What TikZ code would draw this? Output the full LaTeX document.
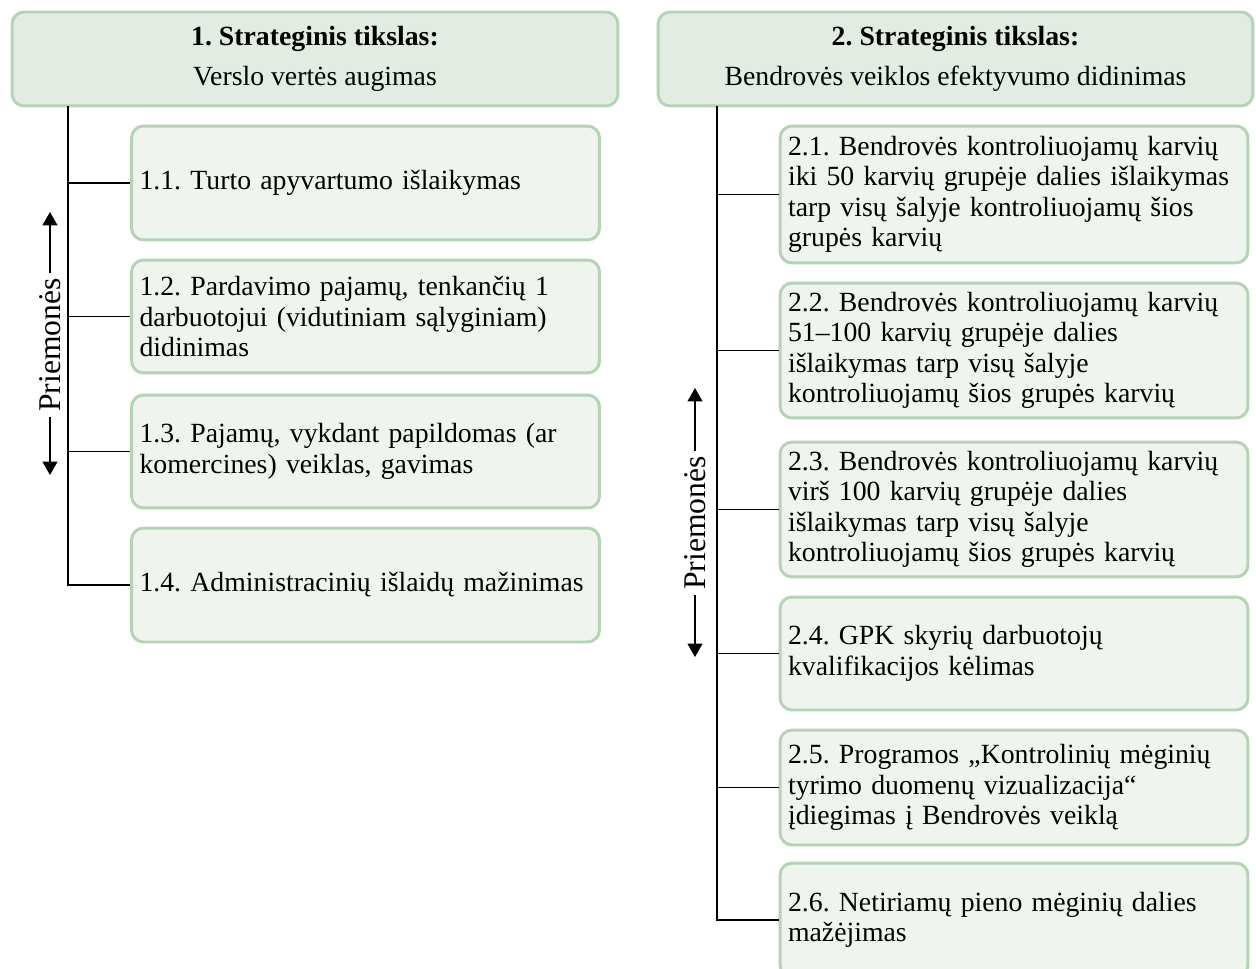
\documentclass[tikz,border=0pt]{standalone}
\usepackage{fontspec}
\setmainfont{Liberation Serif}
\usetikzlibrary{arrows.meta}
\definecolor{boxline}{RGB}{181,211,181}
\definecolor{headfill}{RGB}{226,236,226}
\definecolor{boxfill}{RGB}{239,244,239}
\frenchspacing
\begin{document}
\begin{tikzpicture}[x=0.02cm,y=-0.02cm,
    every node/.style={font=\fontsize{15.8}{17.3}\selectfont},
    goal/.style={draw=boxline, line width=1.7pt, fill=headfill, rounded corners=0.24cm,
        minimum height=1.88cm, align=center},
    measure/.style={draw=boxline, line width=1.7pt, fill=boxfill, rounded corners=0.24cm,
        inner xsep=0.16cm, text width=9.04cm, align=left},
    trunk/.style={line width=1.1pt, black},
    label/.style={rotate=90, inner xsep=3pt, inner ysep=1pt, font=\fontsize{18}{20}\selectfont}]
        \useasboundingbox (0,0) rectangle (1256,969);
        % strateginiai tikslai
        \node[goal, minimum width=12.12cm] (s1) at (315,59) {\textbf{1. Strateginis tikslas:}\\[5.5pt] Verslo vertės augimas};
        \node[goal, minimum width=11.9cm] (s2) at (955.5,59) {\textbf{2. Strateginis tikslas:}\\[5.5pt] Bendrovės veiklos efektyvumo didinimas};
        % priemones 1
        \node[measure, minimum height=2.28cm] (m11) at (365.5,183) {1.1. Turto apyvartumo išlaikymas};
        \node[measure, minimum height=2.26cm] (m12) at (365.5,316.5) {1.2. Pardavimo pajamų, tenkančių 1\\ darbuotojui (vidutiniam sąlyginiam)\\ didinimas};
        \node[measure, minimum height=2.26cm] (m13) at (365.5,451.5) {1.3. Pajamų, vykdant papildomas (ar\\ komercines) veiklas, gavimas};
        \node[measure, minimum height=2.28cm] (m14) at (365.5,585) {1.4. Administracinių išlaidų mažinimas};
        % priemones 2
        \node[measure, minimum height=2.74cm] (m21) at (1014,194.5) {2.1. Bendrovės kontroliuojamų karvių\\ iki 50 karvių grupėje dalies išlaikymas\\ tarp visų šalyje kontroliuojamų šios\\ grupės karvių};
        \node[measure, minimum height=2.7cm] (m22) at (1014,350.5) {2.2. Bendrovės kontroliuojamų karvių\\ 51–100 karvių grupėje dalies\\ išlaikymas tarp visų šalyje\\ kontroliuojamų šios grupės karvių};
        \node[measure, minimum height=2.7cm] (m23) at (1014,509.5) {2.3. Bendrovės kontroliuojamų karvių\\ virš 100 karvių grupėje dalies\\ išlaikymas tarp visų šalyje\\ kontroliuojamų šios grupės karvių};
        \node[measure, minimum height=2.26cm] (m24) at (1014,653.5) {2.4. GPK skyrių darbuotojų\\ kvalifikacijos kėlimas\\[6pt]};
        \node[measure, minimum height=2.3cm] (m25) at (1014,787.5) {2.5. Programos „Kontrolinių mėginių\\ tyrimo duomenų vizualizacija“\\ įdiegimas į Bendrovės veiklą};
        \node[measure, minimum height=2.28cm] (m26) at (1014,920) {2.6. Netiriamų pieno mėginių dalies\\ mažėjimas};
        % Priemonės rodyklės
        \node[label] (p1) at (50,345) {Priemonės};
        \node[label] (p2) at (695,523) {Priemonės};
        \coordinate (p1up) at (p1.east |- 0,212);
        \coordinate (p1dn) at (p1.west |- 0,475);
        \coordinate (p2up) at (p2.east |- 0,388);
        \coordinate (p2dn) at (p2.west |- 0,657);
        \path[draw,line width=0.8pt,-{Triangle[length=0.27cm,width=0.3cm]}] (p1.east) -- (p1up);
        \path[draw,line width=0.8pt,-{Triangle[length=0.27cm,width=0.3cm]}] (p1.west) -- (p1dn);
        \path[draw,line width=0.8pt,-{Triangle[length=0.27cm,width=0.3cm]}] (p2.east) -- (p2up);
        \path[draw,line width=0.8pt,-{Triangle[length=0.27cm,width=0.3cm]}] (p2.west) -- (p2dn);
        % jungtys
        \coordinate (t1) at (68,106);
        \coordinate (t2) at (717,106);
        \path[draw,trunk] (t1) |- (m14.west);
        \path[draw,trunk] (t1 |- m11.west) -- (m11.west);
        \path[draw,trunk] (t1 |- m12.west) -- (m12.west);
        \path[draw,trunk] (t1 |- m13.west) -- (m13.west);
        \path[draw,trunk] (t2) |- (m26.west);
        \path[draw,trunk] (t2 |- m21.west) -- (m21.west);
        \path[draw,trunk] (t2 |- m22.west) -- (m22.west);
        \path[draw,trunk] (t2 |- m23.west) -- (m23.west);
        \path[draw,trunk] (t2 |- m24.west) -- (m24.west);
        \path[draw,trunk] (t2 |- m25.west) -- (m25.west);
    \end{tikzpicture}
\end{document}
